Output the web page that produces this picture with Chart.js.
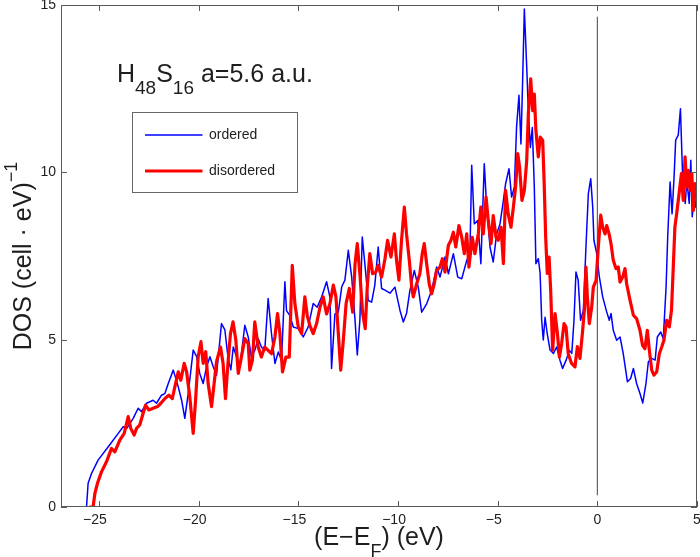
<!DOCTYPE html>
<html>
<head>
<meta charset="utf-8">
<style>
html, body { margin: 0; padding: 0; background: #fff; }
#wrap { width: 700px; height: 557px; }
</style>
<script src="https://cdn.jsdelivr.net/npm/chart.js@4.4.1/dist/chart.umd.min.js"></script>
</head>
<body>
<div id="wrap"><canvas id="dosChart" width="700" height="557"></canvas></div>
<script>
// ordered H48S16 (blue)
const orderedE = [-25.62, -25.54, -25.37, -25.04, -24.53, -24.03, -23.78, -23.6, -23.28, -23.03, -22.86, -22.61, -22.28, -22.11, -21.86, -21.69, -21.52, -21.27, -21.19, -21.02, -20.85, -20.69, -20.52, -20.27, -20.1, -19.94, -19.77, -19.6, -19.43, -19.27, -19.1, -18.85, -18.68, -18.52, -18.38, -18.26, -18.1, -17.93, -17.68, -17.51, -17.35, -17.18, -17.01, -16.85, -16.68, -16.51, -16.34, -16.17, -16.0, -15.84, -15.67, -15.59, -15.42, -15.25, -15.0, -14.75, -14.5, -14.25, -14.05, -13.83, -13.58, -13.41, -13.33, -13.16, -12.99, -12.82, -12.66, -12.49, -12.32, -12.15, -12.04, -11.91, -11.79, -11.66, -11.49, -11.32, -11.16, -10.99, -10.82, -10.65, -10.4, -10.15, -9.9, -9.73, -9.57, -9.4, -9.18, -8.98, -8.81, -8.56, -8.31, -8.06, -7.89, -7.64, -7.47, -7.22, -7.0, -6.8, -6.55, -6.39, -6.3, -6.17, -6.0, -5.84, -5.67, -5.55, -5.38, -5.22, -5.05, -4.88, -4.71, -4.6, -4.43, -4.3, -4.16, -4.05, -3.93, -3.83, -3.75, -3.66, -3.54, -3.46, -3.36, -3.26, -3.16, -3.08, -2.96, -2.87, -2.79, -2.71, -2.62, -2.51, -2.37, -2.2, -2.04, -1.87, -1.74, -1.57, -1.4, -1.28, -1.17, -1.07, -0.96, -0.84, -0.7, -0.57, -0.45, -0.33, -0.23, -0.17, -0.03, 0.1, 0.27, 0.47, 0.6, 0.69, 0.8, 0.97, 1.14, 1.3, 1.51, 1.67, 1.81, 1.97, 2.14, 2.28, 2.44, 2.56, 2.73, 2.9, 3.01, 3.18, 3.31, 3.45, 3.53, 3.65, 3.75, 3.85, 3.93, 4.06, 4.17, 4.29, 4.41, 4.49, 4.61, 4.69, 4.76, 4.86, 4.94, 5.0];
const orderedDOS = [0, 0.71, 1.0, 1.4, 1.8, 2.2, 2.4, 2.35, 2.65, 2.95, 2.85, 3.1, 3.19, 3.1, 3.34, 3.39, 3.69, 4.09, 3.94, 3.59, 3.19, 2.65, 3.39, 4.69, 4.5, 3.99, 3.69, 4.19, 4.49, 4.2, 3.94, 5.48, 5.29, 4.45, 4.1, 4.78, 4.5, 4.19, 5.43, 5.08, 4.48, 4.68, 5.03, 4.78, 4.68, 6.23, 5.17, 4.29, 4.63, 4.38, 6.73, 5.87, 5.72, 5.38, 5.33, 5.08, 5.38, 6.08, 5.97, 6.27, 6.73, 6.27, 4.14, 5.77, 5.82, 6.58, 6.78, 7.67, 6.87, 5.57, 4.54, 5.57, 8.07, 7.27, 6.17, 6.12, 6.63, 7.77, 6.53, 6.48, 6.39, 6.57, 5.88, 5.53, 5.78, 6.47, 7.07, 6.57, 5.82, 6.07, 6.47, 7.17, 6.87, 7.47, 6.97, 7.57, 6.87, 6.82, 7.37, 7.57, 10.21, 8.46, 8.56, 7.27, 10.26, 8.96, 7.76, 7.32, 8.16, 8.46, 9.16, 9.66, 10.11, 9.26, 9.56, 11.35, 12.3, 10.85, 12.65, 14.88, 13.13, 11.84, 10.74, 11.34, 9.56, 7.27, 7.42, 7.0, 5.58, 4.99, 5.67, 5.17, 4.69, 4.59, 4.78, 4.38, 4.14, 4.38, 4.68, 4.59, 5.58, 7.02, 6.78, 5.58, 5.87, 7.77, 9.36, 9.81, 8.96, 7.97, 7.57, 6.88, 6.28, 5.83, 5.58, 5.78, 5.28, 4.98, 5.08, 4.58, 3.74, 3.84, 4.14, 3.69, 3.39, 3.11, 3.69, 4.34, 4.44, 4.39, 5.08, 5.23, 5.03, 6.58, 8.07, 9.71, 8.76, 9.86, 10.96, 11.11, 11.9, 9.66, 9.07, 9.76, 9.07, 10.36, 8.67, 9.36, 8.96, 9.2];

// disordered H48S16 (red)
const disorderedE = [-25.45, -25.29, -25.2, -25.07, -24.87, -24.62, -24.37, -24.2, -23.95, -23.73, -23.53, -23.4, -23.23, -23.11, -22.95, -22.78, -22.66, -22.49, -22.28, -22.06, -21.89, -21.69, -21.49, -21.32, -21.19, -21.02, -20.89, -20.72, -20.6, -20.44, -20.27, -20.15, -20.02, -19.88, -19.77, -19.64, -19.52, -19.35, -19.22, -19.1, -18.9, -18.77, -18.65, -18.52, -18.4, -18.27, -18.13, -18.01, -17.85, -17.68, -17.51, -17.43, -17.3, -17.18, -17.01, -16.85, -16.68, -16.51, -16.34, -16.17, -16.04, -15.92, -15.79, -15.62, -15.45, -15.3, -15.17, -15.0, -14.83, -14.67, -14.55, -14.42, -14.25, -14.08, -13.91, -13.75, -13.58, -13.41, -13.24, -13.11, -12.99, -12.87, -12.74, -12.6, -12.44, -12.27, -12.15, -12.04, -11.91, -11.77, -11.64, -11.54, -11.41, -11.27, -11.11, -10.99, -10.82, -10.65, -10.52, -10.35, -10.18, -10.07, -9.95, -9.82, -9.68, -9.57, -9.43, -9.31, -9.23, -9.06, -8.9, -8.78, -8.68, -8.56, -8.43, -8.31, -8.18, -8.06, -7.89, -7.77, -7.64, -7.47, -7.34, -7.22, -7.1, -6.94, -6.8, -6.67, -6.55, -6.44, -6.27, -6.14, -5.97, -5.84, -5.72, -5.58, -5.47, -5.33, -5.22, -5.08, -4.97, -4.83, -4.71, -4.6, -4.47, -4.33, -4.21, -4.1, -3.99, -3.9, -3.78, -3.66, -3.54, -3.46, -3.34, -3.24, -3.16, -3.08, -2.96, -2.86, -2.74, -2.67, -2.59, -2.51, -2.42, -2.34, -2.24, -2.12, -2.0, -1.9, -1.79, -1.67, -1.57, -1.46, -1.29, -1.12, -1.0, -0.87, -0.75, -0.65, -0.57, -0.5, -0.4, -0.28, -0.2, -0.06, 0.05, 0.17, 0.27, 0.39, 0.47, 0.59, 0.69, 0.8, 0.94, 1.05, 1.14, 1.27, 1.39, 1.47, 1.64, 1.81, 1.97, 2.14, 2.27, 2.39, 2.51, 2.61, 2.73, 2.84, 2.98, 3.11, 3.23, 3.34, 3.48, 3.61, 3.72, 3.81, 3.89, 3.98, 4.06, 4.14, 4.22, 4.31, 4.4, 4.49, 4.57, 4.66, 4.74, 4.82, 4.91, 4.99];
const disorderedDOS = [0, 0, 0.41, 0.71, 1.05, 1.35, 1.75, 1.65, 2.0, 2.2, 2.7, 2.35, 2.15, 2.35, 2.45, 2.8, 3.04, 2.9, 2.95, 3.0, 3.1, 3.24, 3.34, 3.24, 3.59, 4.04, 3.79, 4.29, 4.04, 3.29, 2.2, 3.19, 4.49, 4.94, 4.29, 4.64, 3.69, 3.0, 3.69, 4.34, 4.78, 4.29, 3.24, 4.34, 5.18, 5.53, 4.98, 3.99, 4.48, 5.03, 4.88, 4.09, 4.38, 5.53, 4.78, 4.48, 4.78, 4.68, 4.58, 5.08, 5.78, 5.18, 4.04, 4.48, 4.48, 7.22, 6.08, 5.38, 5.18, 6.28, 5.72, 5.43, 5.18, 5.48, 5.97, 6.28, 5.77, 6.08, 6.63, 6.28, 5.18, 4.09, 4.98, 6.08, 6.53, 5.82, 7.27, 7.87, 6.97, 5.78, 5.33, 6.57, 7.57, 6.97, 7.02, 7.22, 6.87, 7.42, 7.97, 7.47, 8.16, 7.37, 6.78, 7.97, 8.96, 8.16, 7.37, 6.57, 6.28, 6.67, 6.97, 7.57, 7.87, 7.27, 6.67, 6.37, 6.67, 7.07, 7.17, 7.42, 7.02, 7.82, 7.97, 8.21, 7.77, 8.41, 8.06, 7.57, 8.16, 7.17, 8.06, 7.57, 8.16, 8.96, 8.16, 9.26, 8.56, 7.87, 8.71, 8.06, 7.97, 8.36, 7.27, 9.46, 8.76, 8.36, 8.96, 9.56, 10.56, 10.16, 9.16, 9.46, 10.36, 11.75, 12.79, 11.84, 12.34, 11.25, 10.46, 11.05, 10.96, 9.76, 8.07, 6.98, 7.47, 6.48, 4.69, 5.78, 5.18, 4.48, 4.88, 5.48, 5.38, 4.58, 4.29, 4.19, 4.79, 4.44, 5.18, 5.88, 7.17, 6.28, 5.48, 5.98, 6.57, 6.77, 7.77, 8.72, 8.36, 8.16, 8.41, 8.16, 7.86, 7.37, 7.12, 7.17, 6.72, 6.87, 7.12, 6.67, 6.18, 5.73, 5.63, 5.28, 4.83, 4.73, 5.28, 4.68, 4.09, 3.94, 4.04, 4.58, 4.78, 4.98, 5.58, 5.38, 5.88, 7.17, 8.36, 8.76, 9.16, 9.56, 9.96, 9.16, 10.46, 9.56, 10.06, 9.46, 9.96, 8.86, 9.66, 9.26];

// Fermi level marker
const fermiE = [0, 0];
const fermiDOS = [0.35, 14.65];

const xTickValues = [-25, -20, -15, -10, -5, 0, 5];
const yTickValues = [0, 5, 10, 15];
const seriesNames = ['ordered', 'disordered'];
const seriesColors = ['#0000ff', '#ff0000'];
const seriesWidths = [1.5, 3.2];

const FONT = "'Liberation Sans', Arial, Helvetica, sans-serif";
const TEXT_COLOR = '#1e1e1e';

function toPoints(xs, ys) {
    return xs.map((x, i) => ({ x: x, y: ys[i] }));
}

// draws a run of [text, size, baselineShift] pieces starting at x
function drawPieces(ctx, pieces, x, y) {
    pieces.forEach(([txt, size, shift]) => {
        ctx.font = size + 'px ' + FONT;
        ctx.fillText(txt, x, y + shift);
        x += ctx.measureText(txt).width;
    });
}
function piecesWidth(ctx, pieces) {
    let w = 0;
    pieces.forEach(([txt, size]) => {
        ctx.font = size + 'px ' + FONT;
        w += ctx.measureText(txt).width;
    });
    return w;
}

// box, inward ticks, legend, title and axis titles
const decorPlugin = {
    id: 'decor',
    afterDatasetsDraw(chart) {
        const { ctx, chartArea: a, scales: { x, y } } = chart;
        ctx.save();
        ctx.strokeStyle = '#5a5a5a';
        ctx.lineWidth = 1;
        ctx.strokeRect(a.left + 0.5, a.top + 0.5, a.right - a.left - 1, a.bottom - a.top - 1);
        ctx.beginPath();
        xTickValues.forEach(v => {
            const px = Math.round(x.getPixelForValue(v)) + 0.5;
            ctx.moveTo(px, a.bottom); ctx.lineTo(px, a.bottom - 6);
            ctx.moveTo(px, a.top); ctx.lineTo(px, a.top + 6);
        });
        yTickValues.forEach(v => {
            const py = Math.round(y.getPixelForValue(v)) + 0.5;
            ctx.moveTo(a.left, py); ctx.lineTo(a.left + 6, py);
            ctx.moveTo(a.right, py); ctx.lineTo(a.right - 6, py);
        });
        ctx.stroke();

        // legend box
        const lx = a.left + 71.5, ly = a.top + 107.5;
        ctx.fillStyle = '#fff';
        ctx.fillRect(lx, ly, 165, 80);
        ctx.strokeStyle = '#666';
        ctx.strokeRect(lx, ly, 165, 80);
        ctx.textBaseline = 'middle';
        ctx.textAlign = 'left';
        ctx.font = '14px ' + FONT;
        [22.5, 58.5].forEach((dy, i) => {
            ctx.strokeStyle = seriesColors[i];
            ctx.lineWidth = seriesWidths[i];
            ctx.beginPath();
            ctx.moveTo(lx + 12.5, ly + dy);
            ctx.lineTo(lx + 70, ly + dy);
            ctx.stroke();
            ctx.fillStyle = TEXT_COLOR;
            ctx.fillText(seriesNames[i], lx + 76.5, ly + dy);
        });

        // annotation
        ctx.fillStyle = TEXT_COLOR;
        ctx.textBaseline = 'alphabetic';
        drawPieces(ctx, [['H', 25, 0], ['48', 19, 12], ['S', 25, 0], ['16', 19, 12], [' a=5.6 a.u.', 25, 0]],
            a.left + 56, a.top + 77);

        // x axis title
        const xt = [['(E\u2212E', 25, 0], ['F', 18, 11.5], [') (eV)', 25, 0]];
        const xw = piecesWidth(ctx, xt);
        drawPieces(ctx, xt, (a.left + a.right) / 2 - xw / 2, 545);

        // y axis title
        const yt = [['DOS (cell \u00b7 eV)', 25, 0], ['\u22121', 18, -14]];
        const yw = piecesWidth(ctx, yt);
        ctx.translate(30.5, (a.top + a.bottom) / 2);
        ctx.rotate(-Math.PI / 2);
        drawPieces(ctx, yt, -yw / 2, 0);
        ctx.restore();
    }
};

const chart = new Chart(document.getElementById('dosChart'), {
    type: 'scatter',
    data: {
        datasets: [
            {
                label: seriesNames[0],
                data: toPoints(orderedE, orderedDOS),
                borderColor: seriesColors[0],
                borderWidth: seriesWidths[0],
                borderJoinStyle: 'round',
                borderCapStyle: 'round',
                showLine: true,
                pointRadius: 0,
                tension: 0,
                order: 1
            },
            {
                label: seriesNames[1],
                data: toPoints(disorderedE, disorderedDOS),
                borderColor: seriesColors[1],
                borderWidth: seriesWidths[1],
                borderJoinStyle: 'round',
                borderCapStyle: 'round',
                showLine: true,
                pointRadius: 0,
                tension: 0,
                order: 0
            },
            {
                label: 'E_F',
                data: toPoints(fermiE, fermiDOS),
                borderColor: '#444',
                borderWidth: 1,
                showLine: true,
                pointRadius: 0,
                order: 2
            }
        ]
    },
    options: {
        responsive: false,
        animation: false,
        devicePixelRatio: 1,
        layout: { padding: { top: 5, right: 3, left: 0, bottom: 0 } },
        plugins: {
            legend: { display: false },
            tooltip: { enabled: false }
        },
        scales: {
            x: {
                type: 'linear',
                min: -26.9,
                max: 5,
                grid: { display: false, drawTicks: false },
                border: { display: false },
                afterFit: s => { s.height = 50; s.paddingLeft = 0; s.paddingRight = 0; },
                afterBuildTicks: s => { s.ticks = xTickValues.map(v => ({ value: v })); },
                ticks: {
                    padding: 5,
                    color: TEXT_COLOR,
                    font: { family: FONT, size: 14 },
                    maxRotation: 0,
                    autoSkip: false,
                    callback: v => v < 0 ? '\u2212' + Math.abs(v) + '\u00a0\u00a0' : String(v)
                }
            },
            y: {
                type: 'linear',
                min: 0,
                max: 15,
                grid: { display: false, drawTicks: false },
                border: { display: false },
                afterFit: s => { s.width = 61; s.paddingTop = 0; s.paddingBottom = 0; },
                afterBuildTicks: s => { s.ticks = yTickValues.map(v => ({ value: v })); },
                ticks: {
                    padding: 5,
                    color: TEXT_COLOR,
                    font: { family: FONT, size: 14 },
                    autoSkip: false
                }
            }
        }
    },
    plugins: [decorPlugin]
});
</script>
</body>
</html>
